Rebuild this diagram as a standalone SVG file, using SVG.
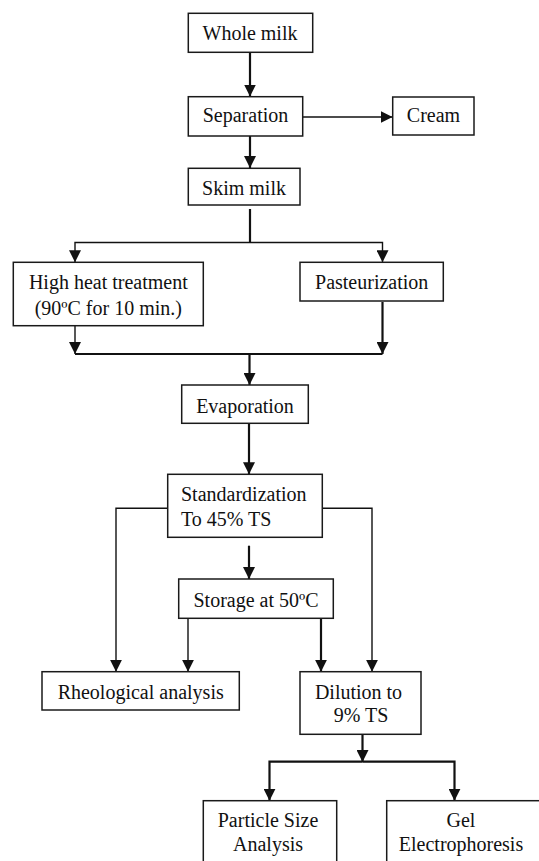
<svg xmlns="http://www.w3.org/2000/svg" width="539" height="861" viewBox="0 0 539 861">
<style>
.box rect{fill:#fff;stroke:#1a1a1a;stroke-width:1.5}
.box text{font-family:"Liberation Serif","Times New Roman",serif;font-size:20px;fill:#111;text-anchor:middle}
.box text.left{text-anchor:start}
.c path{fill:none;stroke:#111}
.thick{stroke-width:2.2}
.thin{stroke-width:1.4}
.arr{marker-end:url(#ah)}
</style>
<defs>
<marker id="ah" markerUnits="userSpaceOnUse" markerWidth="12" markerHeight="12" refX="12" refY="6" orient="auto">
<path d="M0,0 L12,6 L0,12 z" fill="#111"/>
</marker>
</defs>
<rect width="539" height="861" fill="#fff"/>
<g id="connectors" class="c">
<path class="thick arr" d="M250,52 V96.5"/>
<path class="thin arr" d="M300,117 H392.5"/>
<path class="thick arr" d="M250,136 V168"/>
<path class="thick" d="M250,209 V242.5"/>
<path class="thin arr" d="M250,242.5 H75 V262.3"/>
<path class="thin arr" d="M250,242.5 H382.5 V262.3"/>
<path class="thin arr" d="M75,326 V354"/>
<path class="thick arr" d="M382.5,302 V354"/>
<path class="thick" d="M75,354 H382.5"/>
<path class="thick arr" d="M249.5,354 V385"/>
<path class="thick arr" d="M249,423.5 V474.3"/>
<path class="thin arr" d="M167.7,508.3 H116 V671.7"/>
<path class="thin arr" d="M322.3,508.3 H372 V671.7"/>
<path class="thick arr" d="M249,545.7 V579"/>
<path class="thin arr" d="M188,618.3 V671.7"/>
<path class="thick arr" d="M321,618.3 V671.7"/>
<path class="thick arr" d="M362.5,730 V762"/>
<path class="thick arr" d="M362.5,761.7 H269.5 V800.7"/>
<path class="thick arr" d="M362.5,761.7 H454.5 V800.7"/>
</g>
<g id="whole-milk" class="box"><rect x="188.3" y="13.3" width="124.4" height="39"/><text x="250" y="40">Whole milk</text></g>
<g id="separation" class="box"><rect x="188.3" y="96.7" width="114.4" height="39.3"/><text x="245.5" y="122">Separation</text></g>
<g id="cream" class="box"><rect x="392.7" y="97" width="81.3" height="38"/><text x="433.5" y="122">Cream</text></g>
<g id="skim-milk" class="box"><rect x="188.3" y="168.3" width="111.7" height="36.7"/><text x="244" y="194.5">Skim milk</text></g>
<g id="high-heat" class="box"><rect x="13.3" y="262.3" width="190" height="63.4"/><text x="108.3" y="289">High heat treatment</text><text x="108.3" y="315">(90ºC for 10 min.)</text></g>
<g id="pasteurization" class="box"><rect x="300" y="262.3" width="143.3" height="38.7"/><text x="371.7" y="289.3">Pasteurization</text></g>
<g id="evaporation" class="box"><rect x="181.7" y="385" width="126.6" height="38.3"/><text x="245" y="412.5">Evaporation</text></g>
<g id="standardization" class="box"><rect x="167.7" y="474.3" width="154.6" height="63"/><text class="left" x="181" y="501">Standardization</text><text class="left" x="181" y="526">To 45% TS</text></g>
<g id="storage" class="box"><rect x="178.7" y="579" width="154.6" height="39.3"/><text x="256" y="606.7">Storage at 50ºC</text></g>
<g id="rheological" class="box"><rect x="42" y="671.7" width="197.3" height="38.3"/><text x="140.7" y="699">Rheological analysis</text></g>
<g id="dilution" class="box"><rect x="300" y="671.7" width="121" height="62.6"/><text x="358.5" y="699.3">Dilution to</text><text x="361" y="722.3">9% TS</text></g>
<g id="particle-size" class="box"><rect x="203.3" y="800.7" width="133.4" height="80"/><text x="268" y="826.7">Particle Size</text><text x="268" y="850.7">Analysis</text></g>
<g id="gel" class="box"><rect x="386.7" y="800.7" width="170" height="80"/><text x="461" y="826.7">Gel</text><text x="461" y="851">Electrophoresis</text></g>
</svg>
